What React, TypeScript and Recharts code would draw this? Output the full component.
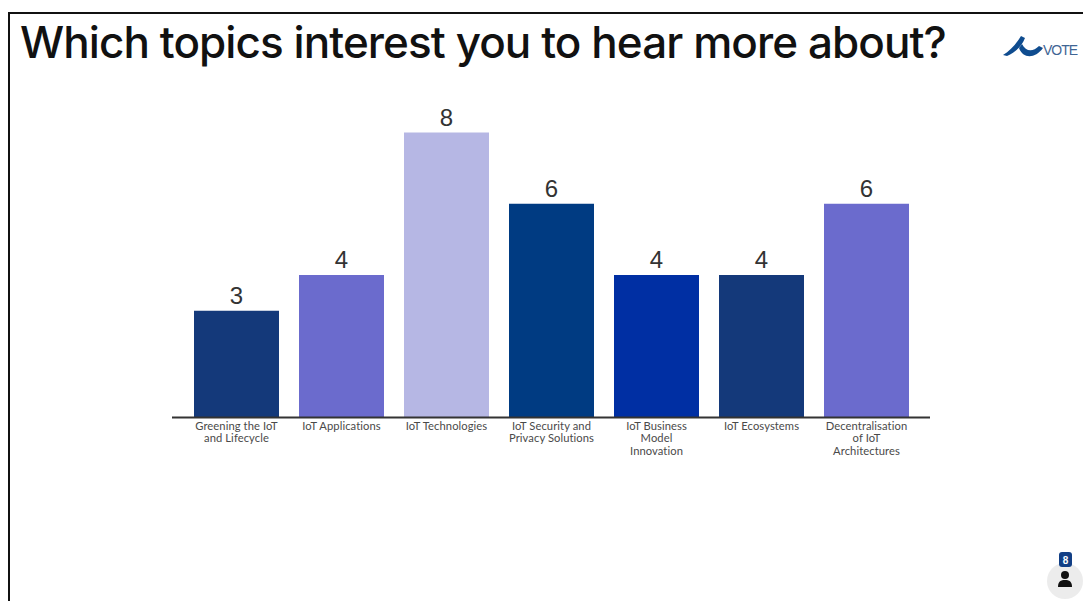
import { BarChart, Bar, XAxis, YAxis, Cell, LabelList } from "recharts";

const topics = [
  "Greening the IoT|and Lifecycle",
  "IoT Applications",
  "IoT Technologies",
  "IoT Security and|Privacy Solutions",
  "IoT Business|Model|Innovation",
  "IoT Ecosystems",
  "Decentralisation|of IoT|Architectures",
];
const votes = [3, 4, 8, 6, 4, 4, 6];
const barColors = ["#14397a", "#6b6bcd", "#b6b7e4", "#003b82", "#002fa3", "#14397a", "#6b6bcd"];

const rows = topics.map((topic, i) => ({ topic, votes: votes[i] }));

// topic names carry "|" where the line should break
function TopicTick({ x, y, payload }: any) {
  const lines = String(payload.value).split("|");
  return (
    <text x={x} y={y} textAnchor="middle" fill="#4a4a4a" fontFamily="Lato, sans-serif" fontSize={11.2} letterSpacing={0.08}>
      {lines.map((line, i) => (
        <tspan key={line} x={x} dy={i === 0 ? 4 : 12.6}>
          {line}
        </tspan>
      ))}
    </text>
  );
}

function Logo() {
  return (
    <svg width="76" height="24" style={{ position: "absolute", left: 1002, top: 34 }}>
      <path d="M1 21 C8 17 14 10 19 2 L23 4 C20 12 14 18 5 22 Z" fill="#0f4c8f" />
      <path d="M20 10 C24 18 31 18 37 12 L41 14 C33 25 21 25 17 14 Z" fill="#0f4c8f" />
      <text x="41" y="21" fontFamily="Liberation Sans, sans-serif" fontSize="14" letterSpacing="-1" fill="#3f6594">
        VOTE
      </text>
    </svg>
  );
}

function VoterBadge() {
  return (
    <svg width="40" height="56" style={{ position: "absolute", left: 1045, top: 549 }}>
      <circle cx="20" cy="32" r="18" fill="#ececec" />
      <rect x="14" y="3" width="13" height="15" rx="3" fill="#123f85" />
      <text x="20.5" y="14.5" textAnchor="middle" fontFamily="Liberation Sans, sans-serif" fontSize="10" fontWeight="700" fill="#fff">
        8
      </text>
      <circle cx="20" cy="26" r="4" fill="#111" />
      <path d="M13 38 C13 32 16 31 20 31 C24 31 27 32 27 38 Z" fill="#111" />
    </svg>
  );
}

export default function App() {
  return (
    <div style={{ position: "absolute", left: 0, top: 0, width: 1083, height: 601, background: "#fff", overflow: "hidden" }}>
      <div style={{ position: "absolute", left: 8, top: 12, width: 1075, height: 2, background: "#111" }} />
      <div style={{ position: "absolute", left: 8, top: 12, width: 2, height: 589, background: "#111" }} />
      <div
        style={{
          position: "absolute",
          left: 20,
          top: 14,
          fontFamily: "Inter, sans-serif",
          fontSize: 44,
          fontWeight: 500,
          letterSpacing: -0.92,
          lineHeight: "56px",
          color: "#111",
          whiteSpace: "nowrap",
        }}
      >
        Which topics interest you to hear more about?
      </div>
      <Logo />
      <BarChart
        width={1083}
        height={601}
        data={rows}
        margin={{ top: 132.5, right: 153, bottom: 0, left: 172 }}
        style={{ position: "absolute", left: 0, top: 0 }}
      >
        <YAxis hide domain={[0, 8]} />
        <XAxis
          dataKey="topic"
          interval={0}
          padding={{ left: 12, right: 11 }}
          axisLine={{ stroke: "#333", strokeWidth: 2 }}
          tickLine={false}
          tick={<TopicTick />}
          height={183.5}
        />
        <Bar dataKey="votes" barSize={85} isAnimationActive={false}>
          {rows.map((row, i) => (
            <Cell key={row.topic} fill={barColors[i]} />
          ))}
          <LabelList
            dataKey="votes"
            position="top"
            offset={7}
            fill="#333"
            fontFamily="Liberation Sans, sans-serif"
            fontSize={24}
          />
        </Bar>
      </BarChart>
      <VoterBadge />
    </div>
  );
}
